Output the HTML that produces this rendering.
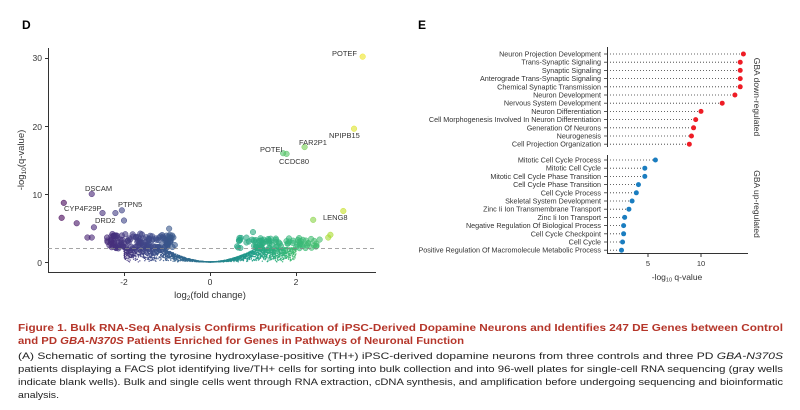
<!DOCTYPE html>
<html><head><meta charset="utf-8"><style>
html,body{margin:0;padding:0;background:#fff;width:800px;height:410px;overflow:hidden}
text{font-family:"Liberation Sans",sans-serif}
</style></head><body>
<svg id="s" width="800" height="410" xmlns="http://www.w3.org/2000/svg">
<text x="22" y="29" font-size="12" font-weight="bold">D</text>
<text x="418" y="29" font-size="12" font-weight="bold">E</text>
<g id="vol"></g>
<g stroke="#333" stroke-width="1" fill="none">
<path d="M48.5 48V272.5H376"/>
<path d="M45 58.5H48M45 126.5H48M45 194.5H48M45 262.5H48M124.5 272.5V276M210.5 272.5V276M296.5 272.5V276"/>
</g>
<line x1="48" y1="248.5" x2="376" y2="248.5" stroke="#888" stroke-dasharray="4,3" stroke-width="0.8"/>
<g font-size="8.5" fill="#333" text-anchor="end">
<text x="42" y="61">30</text><text x="42" y="130">20</text><text x="42" y="198">10</text><text x="42" y="266">0</text>
</g>
<g font-size="8.5" fill="#333" text-anchor="middle">
<text x="124" y="285">-2</text><text x="210" y="285">0</text><text x="296" y="285">2</text>
<text x="210" y="298" font-size="9.5">log<tspan font-size="6.5" dy="2">2</tspan><tspan dy="-2">(fold change)</tspan></text>
</g>
<text transform="translate(24,160) rotate(-90)" font-size="9.5" fill="#333" text-anchor="middle">-log<tspan font-size="6.5" dy="2">10</tspan><tspan dy="-2">(q-value)</tspan></text>
<g font-size="7.5" fill="#333">
<text x="332" y="56">POTEF</text><text x="329" y="138">NPIPB15</text><text x="299" y="145">FAR2P1</text>
<text x="260" y="152">POTEI</text><text x="279" y="164">CCDC80</text><text x="85" y="191">DSCAM</text>
<text x="64" y="211">CYP4F29P</text><text x="118" y="207">PTPN5</text><text x="95" y="223">DRD2</text><text x="323" y="220">LENG8</text>
</g>
<g id="e"></g>
<g fill="#b5362a" font-weight="bold" font-size="10.5">
<text x="18" y="331" textLength="765" lengthAdjust="spacingAndGlyphs">Figure 1.  Bulk RNA-Seq Analysis Confirms Purification of iPSC-Derived Dopamine Neurons and Identifies 247 DE Genes between Control</text>
<text x="18" y="344" textLength="446" lengthAdjust="spacingAndGlyphs">and PD <tspan font-style="italic">GBA-N370S</tspan> Patients Enriched for Genes in Pathways of Neuronal Function</text>
</g>
<g fill="#222" font-size="9.5">
<text x="18" y="359" textLength="765" lengthAdjust="spacingAndGlyphs">(A) Schematic of sorting the tyrosine hydroxylase-positive (TH+) iPSC-derived dopamine neurons from three controls and three PD <tspan font-style="italic">GBA-N370S</tspan></text>
<text x="18" y="372" textLength="765" lengthAdjust="spacingAndGlyphs">patients displaying a FACS plot identifying live/TH+ cells for sorting into bulk collection and into 96-well plates for single-cell RNA sequencing (gray wells</text>
<text x="18" y="385" textLength="765" lengthAdjust="spacingAndGlyphs">indicate blank wells). Bulk and single cells went through RNA extraction, cDNA synthesis, and amplification before undergoing sequencing and bioinformatic</text>
<text x="18" y="398" textLength="41" lengthAdjust="spacingAndGlyphs">analysis.</text>
</g>
</svg>
<script>
var NS="http://www.w3.org/2000/svg";
function el(p,t,a,txt){var e=document.createElementNS(NS,t);for(var k in a)e.setAttribute(k,a[k]);if(txt!=null)e.textContent=txt;p.appendChild(e);return e;}
var seed=7;function r(){seed=(seed*16807)%2147483647;return seed/2147483647;}
var vir=[[68,1,84],[72,40,120],[62,74,137],[49,104,142],[38,130,142],[31,158,137],[53,183,121],[109,205,89],[180,222,44],[253,231,37]];
function col(v){v=Math.max(0,Math.min(1,v))*9;var i=Math.floor(v),f=v-i;if(i>=9){i=8;f=1;}var a=vir[i],b=vir[i+1];return "rgb("+a.map(function(c,j){return Math.round(c+(b[j]-c)*f)}).join(",")+")";}
var g=document.getElementById("vol");
function X(x){return 210+43*x}function Y(y){return 262-6.8*y}
for(var i=0;i<2600;i++){var s=r()<0.5?-1:1;var ax=Math.pow(r(),0.8)*2.0;var x=s*ax;
 var ymax=Math.min(2.1,1.6*ax*ax+0.2*ax);var y=ymax*Math.sqrt(r());
 el(g,"circle",{cx:X(x),cy:Y(y),r:0.7,fill:col(0.42+x*0.14),opacity:0.85});}
var sig=[];
for(var i=0;i<130;i++){var x=-(0.8+r()*1.6);var y=2+r()*2.2;sig.push([x,y]);}
for(var i=0;i<80;i++){var x=0.6+r()*1.9;var y=2+r()*1.6;sig.push([x,y]);}
var ext=[[-3.4,8.7],[-3.45,6.5],[-3.1,5.7],[-2.75,10],[-2.5,7.2],[-2.2,7.2],[-2.05,7.6],[-2.0,6.1],[-2.7,5.1],[-2.85,3.6],[-2.75,3.6],[-0.95,4.9],[2.4,6.2],[3.1,7.5],[2.8,4],[2.75,3.6],[1.7,16],[1.78,15.9],[2.2,16.9],[3.35,19.6],[3.55,30.2],[1.0,4.4],[2.55,3.3]];
sig=sig.concat(ext);
var pg=el(g,"g",{});
sig.forEach(function(p){var v=(p[0]+3.5)/7.2;if(Math.abs(p[0])<2.6&&p[1]<5)v=p[0]<0?0.1+(p[0]+2.6)*0.1:0.55+p[0]*0.06;
 var c=col(v);
 el(pg,"circle",{cx:X(p[0]),cy:Y(p[1]),r:2.8,fill:c,"fill-opacity":0.6,stroke:c,"stroke-opacity":0.9,"stroke-width":0.5});});
var e=document.getElementById("e");
var down=[["Neuron Projection Development",14],["Trans-Synaptic Signaling",13.7],["Synaptic Signaling",13.7],["Anterograde Trans-Synaptic Signaling",13.7],["Chemical Synaptic Transmission",13.7],["Neuron Development",13.2],["Nervous System Development",12],["Neuron Differentiation",10],["Cell Morphogenesis Involved In Neuron Differentiation",9.5],["Generation Of Neurons",9.3],["Neurogenesis",9.1],["Cell Projection Organization",8.9]];
var up=[["Mitotic Cell Cycle Process",5.7],["Mitotic Cell Cycle",4.7],["Mitotic Cell Cycle Phase Transition",4.7],["Cell Cycle Phase Transition",4.1],["Cell Cycle Process",3.9],["Skeletal System Development",3.5],["Zinc Ii Ion Transmembrane Transport",3.2],["Zinc Ii Ion Transport",2.8],["Negative Regulation Of Biological Process",2.7],["Cell Cycle Checkpoint",2.7],["Cell Cycle",2.6],["Positive Regulation Of Macromolecule Metabolic Process",2.5]];
function EX(v){return 595+10.6*v}
function grp(list,y0,color){list.forEach(function(d,i){var y=y0+i*8.2;
 el(e,"line",{x1:610,y1:y,x2:EX(d[1]),y2:y,stroke:"#333","stroke-dasharray":"1,2","stroke-width":0.8});
 el(e,"line",{x1:604,y1:y,x2:607,y2:y,stroke:"#333","stroke-width":0.8});
 el(e,"text",{x:601,y:y+2.5,"font-size":7.2,fill:"#333","text-anchor":"end"},d[0]);
 el(e,"circle",{cx:EX(d[1]),cy:y,r:2.5,fill:color});});}
grp(down,54,"#ee1c25");grp(up,160,"#1a7dc0");
el(e,"path",{d:"M607.5 47V147M607.5 155V253.5H748",stroke:"#333",fill:"none","stroke-width":1});
el(e,"path",{d:"M648 253V257M701 253V257",stroke:"#333","stroke-width":1});
el(e,"text",{x:648,y:266,"font-size":7.5,fill:"#333","text-anchor":"middle"},"5");
el(e,"text",{x:701,y:266,"font-size":7.5,fill:"#333","text-anchor":"middle"},"10");
var t=el(e,"text",{x:677,y:280,"font-size":8.5,fill:"#333","text-anchor":"middle"},"-log");
el(t,"tspan",{"font-size":5.5,dy:1.5},"10");el(t,"tspan",{dy:-1.5}," q-value");
el(e,"text",{transform:"translate(754,97) rotate(90)","font-size":8.5,fill:"#333","text-anchor":"middle"},"GBA down-regulated");
el(e,"text",{transform:"translate(754,204) rotate(90)","font-size":8.5,fill:"#333","text-anchor":"middle"},"GBA up-regulated");
</script>
</body></html>
